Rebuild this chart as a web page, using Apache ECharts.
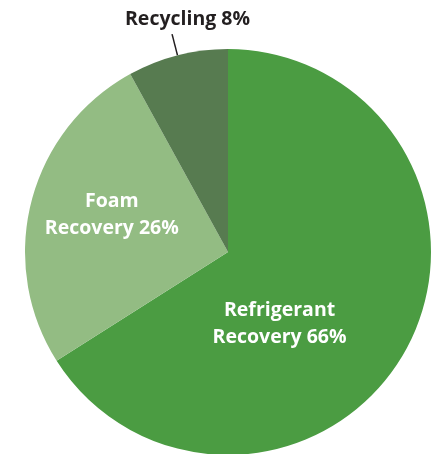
<!DOCTYPE html>
<html>
<head>
<meta charset="utf-8">
<script src="https://cdn.jsdelivr.net/npm/echarts@6/dist/echarts.min.js"></script>
<style>
html,body{margin:0;padding:0;background:#fff;}
#c{width:433px;height:454px;}
</style>
</head>
<body>
<div id="c"></div>
<script>
const categories = ['Refrigerant Recovery', 'Foam Recovery', 'Recycling'];
const values = [66, 26, 8];
const colors = ['#4b9c42', '#93bc83', '#577b50'];
const labelOffsets = [[-40, 22], [-15, -11], [83, -15]];

const chart = echarts.init(document.getElementById('c'), null, {renderer: 'canvas'});
const data = categories.map((name, i) => {
  const item = {name: name, value: values[i], itemStyle: {color: colors[i]}};
  if (i === 2) {
    item.label = {position: 'outside', color: '#231f20', align: 'center'};
    item.labelLine = {show: true, length: 22, length2: 0, lineStyle: {color: '#231f20', width: 1.5}};
  } else {
    item.label = {position: 'inside', color: '#ffffff'};
    item.labelLine = {show: false};
  }
  return item;
});

chart.setOption({
  animation: false,
  series: [{
    type: 'pie',
    center: [228, 252],
    radius: [0, 203],
    startAngle: 90,
    clockwise: true,
    avoidLabelOverlap: false,
    data: data,
    label: {
      show: true,
      fontFamily: 'Open Sans',
      fontWeight: 'bold',
      fontSize: 19.5,
      lineHeight: 27,
      align: 'center',
      formatter: function (p) {
        const n = p.name;
        const idx = n.indexOf(' ');
        if (idx > 0) return n.slice(0, idx) + '\n' + n.slice(idx + 1) + ' ' + p.value + '%';
        return n + ' ' + p.value + '%';
      }
    },
    labelLayout: function (p) {
      const o = labelOffsets[p.dataIndex];
      return {dx: o[0], dy: o[1]};
    },
    emphasis: {disabled: true}
  }]
});
</script>
</body>
</html>
